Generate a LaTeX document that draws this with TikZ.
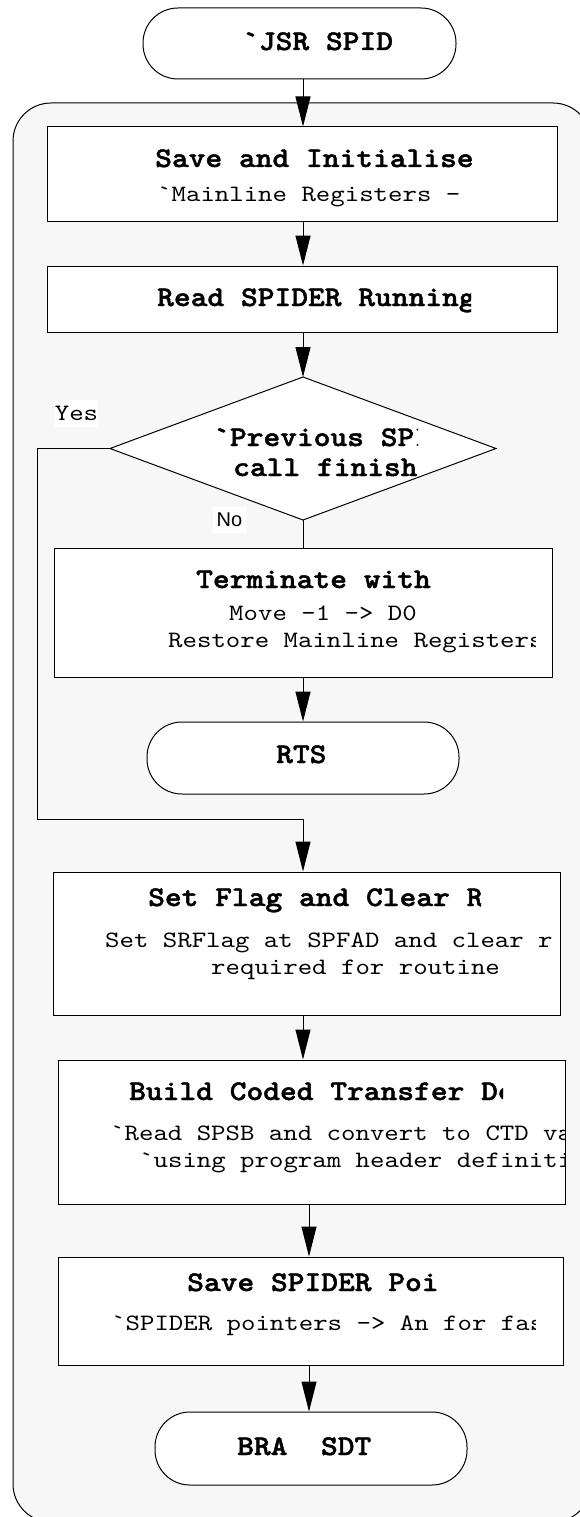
\documentclass[tikz,border=0pt]{standalone}
\usepackage{fontspec}
\usetikzlibrary{arrows.meta}
\newfontfamily\monofam[Ligatures=TeXOff, FakeStretch=1.17, BoldFont=lmmonolt10-bold.otf, BoldFeatures={FakeStretch=1.12, FakeBold=1.6}]{lmmono10-regular.otf}
\newfontfamily\sansfam{Liberation Sans}
\newcommand\tk{\char96\relax}
\definecolor{bggray}{HTML}{F7F7F7}
\tikzset{
  titletext/.style={anchor=base west, inner sep=0pt, font=\monofam\bfseries\fontsize{28.5}{30}\selectfont},
  bodytext/.style={anchor=base west, inner sep=0pt, font=\monofam\fontsize{23.5}{26}\selectfont},
  procbox/.style={draw, fill=white, line width=1pt, inner sep=0pt},
  termbox/.style={draw, fill=white, line width=1pt, inner sep=0pt, rounded corners=35pt},
  arr/.style={line width=1pt, -{Triangle[length=30pt,width=15pt]}},
  plain/.style={line width=1pt},
  lbl/.style={fill=white, inner sep=0pt}
}
\begin{document}
\begin{tikzpicture}[x=1pt,y=-1pt]
\useasboundingbox (0,0) rectangle (580,1517);
\clip (0,0) rectangle (580,1517);
% container
\draw[fill=bggray, line width=1pt, rounded corners=38pt] (13,103) rectangle (591,1522);
% axis helpers
\coordinate (ax) at (303,0);
\coordinate (bx) at (309,0);
% shapes
\node[termbox, minimum width=313pt, minimum height=71pt] (start) at (299.5,43.5) {};
\node[procbox, minimum width=510pt, minimum height=94pt] (box1) at (302,174) {};
\node[procbox, minimum width=510pt, minimum height=66pt] (box2) at (302,299) {};
\coordinate (dt) at (303,377);
\coordinate (dr) at (496,448.5);
\coordinate (db) at (303,520);
\coordinate (dl) at (110,448.5);
\draw[fill=white, line width=1pt] (dt) -- (dr) -- (db) -- (dl) -- cycle;
\node[procbox, minimum width=498pt, minimum height=129pt] (box3) at (303,612.5) {};
\node[termbox, minimum width=312pt, minimum height=72pt] (rts) at (303,758) {};
\node[procbox, minimum width=507pt, minimum height=143pt] (box4) at (306.5,943.5) {};
\node[procbox, minimum width=507pt, minimum height=144pt] (box5) at (311.5,1132) {};
\node[procbox, minimum width=505pt, minimum height=108pt] (box6) at (310.5,1311) {};
\node[termbox, minimum width=312pt, minimum height=73pt] (bra) at (311,1448.5) {};
% connectors
\draw[arr] (start.south -| ax) -- (box1.north -| ax);
\draw[arr] (box1.south -| ax) -- (box2.north -| ax);
\draw[arr] (box2.south -| ax) -- (dt);
\draw[plain] (db) -- (box3.north -| ax);
\draw[arr] (box3.south -| ax) -- (rts.north -| ax);
\coordinate (yl) at (37,448.5);
\coordinate (yb) at (37,819);
\draw[arr] (dl) -- (yl) -- (yb) -- (yb -| ax) -- (box4.north -| ax);
\draw[arr] (box4.south -| ax) -- (box5.north -| ax);
\draw[arr] (box5.south -| bx) -- (box6.north -| bx);
\draw[arr] (box6.south -| bx) -- (bra.north -| bx);
% labels
\node[lbl, minimum width=43pt, minimum height=27pt, font=\monofam\fontsize{23.5}{26}\selectfont] (yes) at (76.5,413.5) {Yes};
\node[lbl, minimum width=33pt, minimum height=26pt, font=\sansfam\fontsize{20}{22}\selectfont] (no) at (229.5,520) {No};
% texts
\node[titletext] (t0) at (242,50) {\tk JSR SPID};
\node[titletext] (t1) at (155,167) {Save and Initialise};
\node[bodytext] (t1b) at (157,201) {\tk Mainline Registers -};
\begin{scope}
\clip (47,266) rectangle (471,332);
\node[titletext] (t2) at (157,306) {Read SPIDER Running};
\end{scope}
\begin{scope}
\clip (150,400) rectangle (418,460);
\node[titletext] (t3) at (213,446) {\tk Previous SPI};
\end{scope}
\node[titletext] (t3b) at (233,476) {call finish};
\node[titletext] (t4) at (196,588) {Terminate with};
\node[bodytext] (t4b) at (229,620) {Move -1 -> D0};
\begin{scope}
\clip (54,548) rectangle (535,677);
\node[bodytext] (t4c) at (168,647) {Restore Mainline Registers};
\end{scope}
\node[titletext] (t5) at (276,763) {RTS};
\begin{scope}
\clip (53,872) rectangle (481,1015);
\node[titletext] (t6) at (148,906) {Set Flag and Clear R};
\end{scope}
\begin{scope}
\clip (53,872) rectangle (557,1015);
\node[bodytext] (t6b) at (105,947) {Set SRFlag at SPFAD and clear r};
\end{scope}
\node[bodytext] (t6c) at (211,974) {required for routine};
\begin{scope}
\clip (58,1060) rectangle (503,1204);
\node[titletext] (t7) at (129,1100) {Build Coded Transfer De};
\end{scope}
\begin{scope}
\clip (58,1060) rectangle (564,1204);
\node[bodytext] (t7b) at (110,1140) {\tk Read SPSB and convert to CTD va};
\node[bodytext] (t7c) at (139,1167) {\tk using program header definiti};
\end{scope}
\node[titletext] (t8) at (187,1291) {Save SPIDER Poi};
\begin{scope}
\clip (58,1257) rectangle (535,1365);
\node[bodytext] (t8b) at (111,1330) {\tk SPIDER pointers -> An for fas};
\end{scope}
\node[titletext] (t9) at (237,1455) {BRA~~SDT};
\end{tikzpicture}
\end{document}
